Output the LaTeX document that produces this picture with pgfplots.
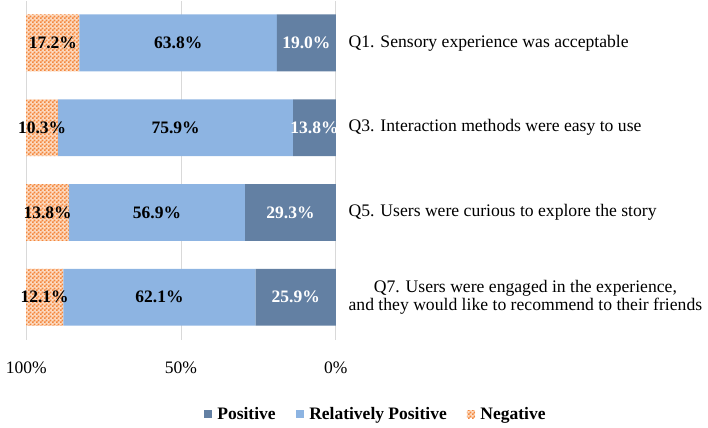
\documentclass[border=0pt]{standalone}
\usepackage{fontspec}
\setmainfont{Liberation Serif}
\usepackage{pgfplots}
\pgfplotsset{compat=1.18}
\usepackage{pgfplotstable}
\usetikzlibrary{patterns}

\pgfdeclarepatternformonly{smallchecker}{\pgfpointorigin}{\pgfqpoint{3pt}{3pt}}{\pgfqpoint{3pt}{3pt}}{%
 \pgfpathrectangle{\pgfpointorigin}{\pgfqpoint{1.5pt}{1.5pt}}%
 \pgfpathrectangle{\pgfqpoint{1.5pt}{1.5pt}}{\pgfqpoint{1.5pt}{1.5pt}}%
 \pgfusepath{fill}}

\definecolor{cpos}{RGB}{99,128,163}
\definecolor{crel}{RGB}{141,180,226}
\definecolor{cneg}{RGB}{244,135,60}
\definecolor{cnegbg}{RGB}{252,218,192}
\definecolor{cgrid}{RGB}{217,217,217}

% segment shares (Positive, Relatively Positive, Negative)
\pgfplotstableread{
y P R N
4 19.0 63.8 17.2
3 13.8 75.9 10.3
2 29.3 56.9 13.8
1 25.9 62.1 12.1
}\datatable

% label positions: centre of each segment
\pgfplotstableread{
y xp lp xr lr xn ln
4 9.5   19.0 50.9  63.8 91.4  17.2
3 6.9   13.8 51.75 75.9 94.85 10.3
2 14.65 29.3 57.75 56.9 93.1  13.8
1 12.95 25.9 56.95 62.1 94.05 12.1
}\labtable

\pgfplotsset{
 common/.style={
  scale only axis,
  width=230pt, height=252pt,
  xmin=0, xmax=100, x dir=reverse,
  ymin=0.5, ymax=4.5,
 },
 seglab/.style={draw=none, mark=none,
  nodes near coords={\pgfplotspointmeta\%},
  every node near coord/.style={anchor=center, font=\bfseries, text=#1}},
}

\begin{document}
\fontsize{13}{15.5}\selectfont
\begin{tikzpicture}
\begin{axis}[
 common,
 xbar stacked,
 bar width=0.67,
 /pgf/number format/assume math mode=true,
 xtick={0,50,100},
 xticklabel={\pgfmathprintnumber{\tick}\%},
 xticklabel style={yshift=-12pt},
 ytick={1,2,3,4},
 yticklabels={{Q7. Users were engaged in the experience,\\ and they would like to recommend to their friends},
   {Q5. Users were curious to explore the story},
   {Q3. Interaction methods were easy to use},
   {Q1. Sensory experience was acceptable}},
 yticklabel pos=right,
 yticklabel style={align=center, anchor=west, xshift=5pt, font=\fontsize{13.1}{13.5}\selectfont},
 axis line style={draw=none},
 major tick length=0pt,
 xmajorgrids, grid style={cgrid, line width=0.75pt},
 legend style={at={(1.13,-0.22)}, anchor=center, draw=none, legend columns=-1, font=\bfseries,
   /tikz/every odd column/.append style={column sep=2pt},
   /tikz/every even column/.append style={column sep=13pt}},
 legend image code/.code={\path[#1, draw=none] (0pt,-3pt) rectangle (6pt,3pt);},
]
\addplot[fill=cpos, draw=none] table[x=P, y=y] {\datatable};
\addplot[fill=crel, draw=none] table[x=R, y=y] {\datatable};
\addplot[fill=cnegbg, draw=none, postaction={pattern=smallchecker, pattern color=cneg}]
  table[x=N, y=y] {\datatable};
\legend{Positive, Relatively Positive, Negative}
\end{axis}
\begin{axis}[
 common,
 hide axis,
 point meta=explicit symbolic,
]
\addplot[seglab=white] table[x=xp, y=y, meta=lp] {\labtable};
\addplot[seglab=black] table[x=xr, y=y, meta=lr] {\labtable};
\addplot[seglab=black] table[x=xn, y=y, meta=ln] {\labtable};
\end{axis}
\end{tikzpicture}
\end{document}
